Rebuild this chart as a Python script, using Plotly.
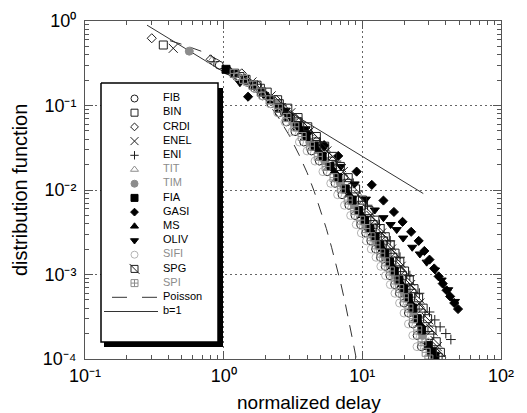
import plotly.graph_objects as go

# ---------------- data: normalized delay (x) vs distribution function (y) ----------------
fib_x = [0.93, 1.07, 1.24, 1.46, 1.67, 1.91, 2.19, 2.51, 2.84, 3.27, 3.78, 4.3, 4.9, 5.59, 6.36, 7.14,
         8.0, 8.86, 9.72, 10.58, 11.52, 12.47, 13.5, 14.62, 15.82, 17.11, 18.49, 19.95, 21.5, 23.13, 24.85, 26.66]
fib_y = [0.30, 0.26, 0.22, 0.19, 0.16, 0.13, 0.105, 0.082, 0.064, 0.049, 0.037, 0.029, 0.022, 0.0165, 0.012,
         0.0088, 0.0066, 0.005, 0.0039, 0.0031, 0.0025, 0.002, 0.0016, 0.00125, 0.00097, 0.00076, 0.0006,
         0.00046, 0.00035, 0.00026, 0.00019, 0.00014]

bin_x = [0.367, 1.31, 1.84, 2.52, 3.43, 4.66, 6.04, 7.84, 9.86, 11.98, 14.2, 16.64, 19.5, 22.79, 26.5, 30.63, 35.2]
bin_y = [0.52, 0.22, 0.16, 0.105, 0.064, 0.037, 0.022, 0.012, 0.0066, 0.0039, 0.0025, 0.0016, 0.00097, 0.0006,
         0.00035, 0.00019, 0.000105]

crdi_x = [0.303, 0.806, 1.35, 1.75, 2.39, 3.25, 4.34, 5.66, 7.36, 9.32, 11.45, 13.61, 16.0, 18.75, 21.92,
          25.52, 29.55, 34.0]
crdi_y = [0.625, 0.352, 0.24, 0.174, 0.117, 0.072, 0.043, 0.025, 0.014, 0.0076, 0.0044, 0.0028, 0.00179,
          0.0011, 0.00068, 0.0004, 0.00022, 0.00012]

enel_x = [0.433, 1.6, 2.2, 3.05, 4.14, 5.55, 7.28, 9.3, 11.54, 13.78, 16.24, 19.04, 22.29, 25.98, 30.13, 34.72]
enel_y = [0.475, 0.19, 0.13, 0.082, 0.049, 0.029, 0.0165, 0.0088, 0.005, 0.0031, 0.002, 0.00125, 0.00076,
          0.00046, 0.00026, 0.00014]

eni_x = [0.85, 1.85, 2.6, 3.6, 4.93, 6.5, 8.6, 10.9, 13.3, 15.9, 18.7, 22.0, 25.8, 30.5, 33.3, 36.4, 40.0, 43.5]
eni_y = [0.33, 0.16, 0.105, 0.064, 0.037, 0.022, 0.012, 0.0066, 0.0039, 0.0025, 0.0016, 0.00097, 0.0006,
         0.00036, 0.00029, 0.00024, 0.0002, 0.00017]

tit_x = [0.82, 1.42, 1.94, 2.64, 3.54, 4.69, 6.09, 7.84, 9.79, 11.8, 13.94, 16.34, 19.14, 22.33, 25.93, 29.93]
tit_y = [0.34, 0.204, 0.144, 0.093, 0.056, 0.033, 0.019, 0.0103, 0.0057, 0.0035, 0.00224, 0.00141, 0.00086,
         0.00053, 0.0003, 0.00016]

tim_x = [0.565, 1.48, 2.4, 3.17, 4.18, 5.36, 6.96, 8.74, 10.62, 12.6, 14.76, 17.3, 20.2, 23.5, 27.2]
tim_y = [0.44, 0.188, 0.105, 0.064, 0.037, 0.022, 0.012, 0.0066, 0.0039, 0.0025, 0.0016, 0.00097, 0.0006,
         0.00035, 0.00019]

fia_x = [1.04, 1.2, 1.41, 1.64, 1.88, 2.18, 2.53, 2.95, 3.4, 3.93, 4.5, 5.13, 5.85, 6.66, 7.53, 8.44, 9.4,
         10.37, 11.33, 12.33, 13.38, 14.49, 15.69, 16.98, 18.37, 19.85, 21.44, 23.12, 24.89, 26.76, 29.9, 31.6, 33.4]
fia_y = [0.268, 0.24, 0.204, 0.174, 0.144, 0.117, 0.093, 0.072, 0.056, 0.043, 0.033, 0.025, 0.019, 0.014,
         0.0103, 0.0076, 0.0057, 0.0044, 0.0035, 0.0028, 0.00224, 0.00179, 0.00141, 0.0011, 0.00086, 0.00068,
         0.00053, 0.0004, 0.0003, 0.00022, 0.000145, 0.000122, 0.000108]

gasi_x = [1.5, 2.6, 4.0, 5.3, 6.7, 9.1, 11.7, 14.2, 16.9, 19.5, 22.5, 25.5, 28.0, 30.5, 33.0, 35.5, 38.0,
          40.5, 43.0, 46.0, 49.0]
gasi_y = [0.127, 0.09, 0.047, 0.034, 0.0253, 0.0165, 0.0115, 0.0075, 0.0055, 0.0042, 0.0032, 0.0025, 0.0019,
          0.0015, 0.00118, 0.00095, 0.00078, 0.00065, 0.00055, 0.00046, 0.00039]

ms_x = [1.08, 1.52, 2.05, 2.77, 3.69, 4.85, 6.31, 8.05, 9.99, 11.93, 14.07, 16.49, 19.3, 22.5, 26.1, 30.07]
ms_y = [0.26, 0.19, 0.13, 0.082, 0.049, 0.029, 0.0165, 0.0088, 0.005, 0.0031, 0.002, 0.00125, 0.00076,
        0.00046, 0.00026, 0.00014]

oliv_x = [1.31, 1.95, 2.8, 3.9, 5.3, 7.0, 8.8, 10.6, 12.3, 14.2, 16.0, 17.7, 19.7, 22.9, 26.0, 29.1, 33.4,
          37.3, 41.6, 46.5]
oliv_y = [0.186, 0.135, 0.088, 0.053, 0.032, 0.019, 0.0118, 0.0078, 0.0058, 0.0047, 0.0039, 0.0034, 0.0027,
          0.0021, 0.00175, 0.0014, 0.00113, 0.00086, 0.00066, 0.00048]

sifi_x = [1.25, 1.46, 1.66, 1.89, 2.16, 2.45, 2.77, 3.12, 3.52, 4.0, 4.56, 5.2, 5.92, 6.64, 7.44, 8.24, 9.04,
          9.84, 10.72, 11.6, 12.56, 13.6, 14.72, 15.92, 17.2, 18.56, 20.0, 21.52, 23.12, 24.8]
sifi_y = [0.22, 0.19, 0.16, 0.13, 0.105, 0.082, 0.064, 0.049, 0.037, 0.029, 0.022, 0.0165, 0.012, 0.0088,
          0.0066, 0.005, 0.0039, 0.0031, 0.0025, 0.002, 0.0016, 0.00125, 0.00097, 0.00076, 0.0006, 0.00046,
          0.00035, 0.00026, 0.00019, 0.00014]

spg_x = [1.2, 1.45, 1.74, 2.06, 2.45, 2.9, 3.44, 4.04, 4.66, 5.35, 6.09, 6.94, 7.91, 8.94, 10.02, 11.16,
         12.31, 13.45, 14.64, 15.89, 17.2, 18.63, 20.17, 21.82, 23.58, 25.46, 27.45, 29.56, 31.78, 34.12, 36.57]
spg_y = [0.24, 0.204, 0.174, 0.144, 0.117, 0.093, 0.072, 0.056, 0.043, 0.033, 0.025, 0.019, 0.014, 0.0103,
         0.0076, 0.0057, 0.0044, 0.0035, 0.0028, 0.00224, 0.00179, 0.00141, 0.0011, 0.00086, 0.00068, 0.00053,
         0.0004, 0.0003, 0.00022, 0.00016, 0.00012]

spi_x = [1.19, 1.39, 1.62, 1.86, 2.16, 2.48, 2.86, 3.26, 3.68, 4.22, 4.81, 5.48, 6.25, 7.06, 7.91, 8.81,
         9.72, 10.62, 11.56, 12.55, 13.58, 14.71, 15.92, 17.23, 18.61, 20.1, 21.67, 23.34, 25.09, 26.94, 28.87, 30.2]
spi_y = [0.24, 0.204, 0.174, 0.144, 0.117, 0.093, 0.072, 0.056, 0.043, 0.033, 0.025, 0.019, 0.014, 0.0103,
         0.0076, 0.0057, 0.0044, 0.0035, 0.0028, 0.00224, 0.00179, 0.00141, 0.0011, 0.00086, 0.00068, 0.00053,
         0.0004, 0.0003, 0.00022, 0.00016, 0.00012, 0.0001]

# reference curves
poisson_x = [0.41, 0.5, 0.7, 1.0, 1.5, 2.0, 2.5, 3.0, 3.5, 4.0, 4.5, 5.0, 5.5, 6.0, 6.5, 7.0, 7.5, 8.0, 8.5,
             9.0, 9.3]
poisson_y = [0.585, 0.53, 0.435, 0.32, 0.195, 0.118, 0.071, 0.043, 0.026, 0.016, 0.0096, 0.0058, 0.0035,
             0.0021, 0.0013, 0.00078, 0.00047, 0.00029, 0.00017, 0.000105, 0.00008]
b1_x = [0.28, 27.5]
b1_y = [0.893, 0.00909]

x_tickvals = [0.1, 1, 10, 100]
x_ticktext = ["10⁻¹", "10⁰", "10¹", "10²"]
y_tickvals = [1e-4, 1e-3, 1e-2, 1e-1, 1]
y_ticktext = ["10⁻⁴", "10⁻³", "10⁻²", "10⁻¹", "10⁰"]

# ---------------- styles ----------------
INK = "#1e1e1e"
GRAY = "#8c8c8c"
LIGHT = "#b4b4b4"
FONT = "Liberation Sans, Arial, Helvetica, sans-serif"
TICK_FONT = "DejaVu Sans, Liberation Sans, sans-serif"

series = [
    ("FIB", fib_x, fib_y, dict(symbol="circle-open", size=8, color=INK), INK),
    ("BIN", bin_x, bin_y, dict(symbol="square-open", size=8, color=INK), INK),
    ("CRDI", crdi_x, crdi_y, dict(symbol="diamond-open", size=7, color=INK), INK),
    ("ENEL", enel_x, enel_y, dict(symbol="x-thin-open", size=9, color=INK), INK),
    ("ENI", eni_x, eni_y, dict(symbol="cross-thin-open", size=7, color=INK), INK),
    ("TIT", tit_x, tit_y, dict(symbol="triangle-up-open", size=8, color=GRAY), GRAY),
    ("TIM", tim_x, tim_y, dict(symbol="circle", size=8, color=GRAY), GRAY),
    ("FIA", fia_x, fia_y, dict(symbol="square", size=8, color="#000"), INK),
    ("GASI", gasi_x, gasi_y, dict(symbol="diamond", size=7, color="#000"), INK),
    ("MS", ms_x, ms_y, dict(symbol="triangle-up", size=8, color="#000"), INK),
    ("OLIV", oliv_x, oliv_y, dict(symbol="triangle-down", size=8, color="#000"), INK),
    ("SIFI", sifi_x, sifi_y, dict(symbol="circle-open", size=8, color=LIGHT), GRAY),
    ("SPG", spg_x, spg_y, dict(symbol="square-open", size=8, color=INK), INK),
    ("SPI", spi_x, spi_y, dict(symbol="square-cross-open", size=8, color=GRAY), GRAY),
]

W, H = 527, 413
ML, MR, MT, MB = 85, 26, 21, 54
PX0, PX1, PY0, PY1 = ML, W - MR, MT, H - MB   # plot-area pixel box


def px_x(p):
    return (p - PX0) / (PX1 - PX0)


def px_y(p):
    return (PY1 - p) / (PY1 - PY0)


fig = go.Figure()

# reference curves
fig.add_trace(go.Scatter(x=poisson_x, y=poisson_y, mode="lines", name="Poisson",
                         line=dict(color="#333", width=1, dash="12px,9px")))
fig.add_trace(go.Scatter(x=b1_x, y=b1_y, mode="lines", name="b=1",
                         line=dict(color="#333", width=1)))

for name, xs, ys, m, _ in series:
    fig.add_trace(go.Scatter(
        x=xs, y=ys, mode="markers", name=name,
        marker=dict(symbol=m["symbol"], size=m["size"], color=m["color"],
                    line=dict(width=1, color=m["color"]))))
    if name == "SPG":
        # single diagonal inside the square
        fig.add_trace(go.Scatter(
            x=xs, y=ys, mode="markers", name=name, hoverinfo="skip",
            marker=dict(symbol="line-nw-open", size=m["size"] / 0.707, color=m["color"],
                        line=dict(width=1, color=m["color"]))))

# ---------------- legend box, drawn on a pixel-space overlay ----------------
LEG_L, LEG_T, LEG_R, LEG_B = 101, 83, 218, 342
SHADOW = 5
ROW0, PITCH = 98.5, 14.2
SYM_X, TXT_X = 134.5, 163
LINE_X0, LINE_X1 = 112, 157


def box_path(l, t, r, b):
    return [l, r, r, l, l], [t, t, b, b, t]


sx, sy = box_path(LEG_L + 3, LEG_T + SHADOW, LEG_R + SHADOW, LEG_B + SHADOW)
fig.add_trace(go.Scatter(x=sx, y=sy, xaxis="x2", yaxis="y2", mode="lines", fill="toself",
                         fillcolor="#000", line=dict(width=0, color="#000"), hoverinfo="skip"))
bx, by = box_path(LEG_L, LEG_T, LEG_R, LEG_B)
fig.add_trace(go.Scatter(x=bx, y=by, xaxis="x2", yaxis="y2", mode="lines", fill="toself",
                         fillcolor="#fff", line=dict(width=1.5, color="#000"), hoverinfo="skip"))

label_names, label_rows, label_colors = [], [], []
for i, (name, _, _, m, tcol) in enumerate(series):
    ry = ROW0 + i * PITCH
    fig.add_trace(go.Scatter(
        x=[SYM_X], y=[ry], xaxis="x2", yaxis="y2", mode="markers", hoverinfo="skip",
        marker=dict(symbol=m["symbol"], size=m["size"] - 1, color=m["color"],
                    line=dict(width=1, color=m["color"]))))
    if name == "SPG":
        fig.add_trace(go.Scatter(
            x=[SYM_X], y=[ry], xaxis="x2", yaxis="y2", mode="markers", hoverinfo="skip",
            marker=dict(symbol="line-nw-open", size=(m["size"] - 1) / 0.707, color=m["color"],
                        line=dict(width=1, color=m["color"]))))
    label_names.append(name)
    label_rows.append(ry)
    label_colors.append(tcol)

for j, (name, dash) in enumerate([("Poisson", "15px,15px"), ("b=1", "solid")]):
    ry = ROW0 + (len(series) + j) * PITCH
    x0 = LINE_X0 if dash != "solid" else 104
    fig.add_trace(go.Scatter(
        x=[x0, LINE_X1 + 1], y=[ry, ry], xaxis="x2", yaxis="y2", mode="lines",
        hoverinfo="skip", line=dict(color="#333", width=1, dash=dash)))
    label_names.append(name)
    label_rows.append(ry)
    label_colors.append("#000")

# legend labels
fig.add_trace(go.Scatter(
    x=[TXT_X] * len(label_names), y=label_rows, xaxis="x2", yaxis="y2", mode="text",
    text=label_names, textposition="middle right", hoverinfo="skip",
    textfont=dict(family=FONT, size=11, color=[c if c != INK else "#000" for c in label_colors])))

# axis titles
annotations = [
    dict(x=px_x(309), y=px_y(402), xref="paper", yref="paper", text="normalized delay",
         showarrow=False, xanchor="center", yanchor="middle",
         font=dict(family=FONT, size=19, color="#000")),
    dict(x=px_x(20), y=px_y(190), xref="paper", yref="paper", text="distribution function",
         showarrow=False, xanchor="center", yanchor="middle", textangle=-90,
         font=dict(family=FONT, size=20, color="#000")),
]

x_minor = [k * 10.0 ** e for e in range(-1, 2) for k in range(2, 10)]
y_minor = [k * 10.0 ** e for e in range(-4, 0) for k in range(2, 10)]

axis_common = dict(
    showline=True, linecolor="#555", linewidth=1, mirror="allticks",
    ticks="inside", ticklen=8, tickcolor="#555", tickwidth=1,
    showgrid=True, gridcolor="#666", gridwidth=1, griddash="2px,3px",
    zeroline=False, tickfont=dict(family=FONT, size=18, color="#000"),
)

fig.update_layout(
    width=W, height=H,
    margin=dict(l=ML, r=MR, t=MT, b=MB, pad=0),
    paper_bgcolor="#fff", plot_bgcolor="#fff",
    showlegend=False,
    xaxis=dict(type="log", range=[-1, 2], tickmode="array", tickvals=x_tickvals, ticktext=x_ticktext,
               minor=dict(tickmode="array", tickvals=x_minor, ticks="inside", ticklen=4,
                          tickcolor="#555", showgrid=False),
               **axis_common),
    yaxis=dict(type="log", range=[-4, 0], tickmode="array", tickvals=y_tickvals, ticktext=y_ticktext,
               minor=dict(tickmode="array", tickvals=y_minor, ticks="inside", ticklen=4,
                          tickcolor="#555", showgrid=False),
               ticklabelstandoff=4,
               **axis_common),
    xaxis2=dict(overlaying="x", anchor="y2", range=[PX0, PX1], visible=False, fixedrange=True),
    yaxis2=dict(overlaying="y", anchor="x2", range=[PY1, PY0], visible=False, fixedrange=True),
    annotations=annotations,
)

fig.write_html("out.html")
